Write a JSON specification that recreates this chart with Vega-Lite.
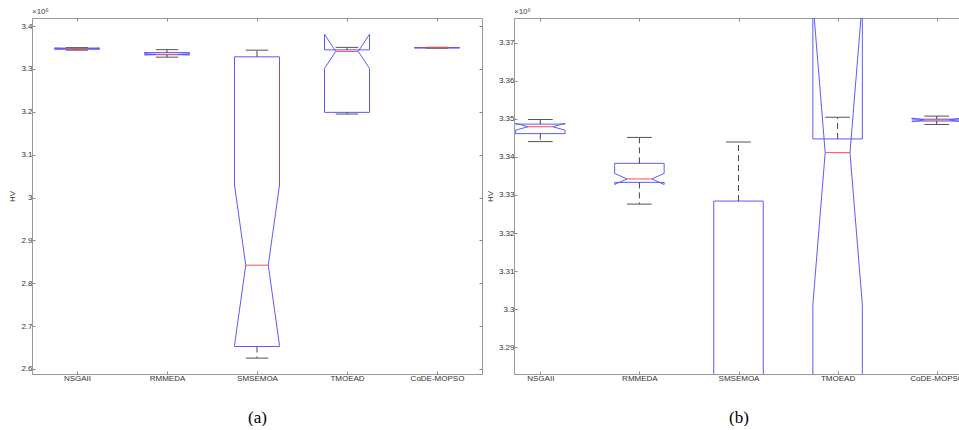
{
  "$schema": "https://vega.github.io/schema/vega-lite/v6.json",
  "background": "white",
  "padding": {"left": 8, "top": 7, "right": 0, "bottom": 0},
  "spacing": 2,
  "data": {"values": [
    {"algo": "NSGAII", "whisker_lo": 3344000, "q1": 3346100, "notch_lo": 3347000, "median": 3347900, "notch_hi": 3348800, "q3": 3348600, "whisker_hi": 3349800},
    {"algo": "RMMEDA", "whisker_lo": 3327600, "q1": 3333300, "notch_lo": 3332750, "median": 3334200, "notch_hi": 3335650, "q3": 3338300, "whisker_hi": 3345100},
    {"algo": "SMSEMOA", "whisker_lo": 2625400, "q1": 2652500, "notch_lo": 2655000, "median": 2842200, "notch_hi": 3029400, "q3": 3328400, "whisker_hi": 3343900},
    {"algo": "TMOEAD", "whisker_lo": 3194900, "q1": 3198800, "notch_lo": 3301200, "median": 3341100, "notch_hi": 3381000, "q3": 3344700, "whisker_hi": 3350400},
    {"algo": "CoDE-MOPSO", "whisker_lo": 3348500, "q1": 3349400, "notch_lo": 3349200, "median": 3349700, "notch_hi": 3350200, "q3": 3349900, "whisker_hi": 3350700}
  ]},
  "hconcat": [
    {
      "width": 450, "height": 356,
      "title": {"text": "×10⁶", "anchor": "start", "frame": "group", "fontSize": 8, "fontWeight": "normal", "color": "#444", "font": "Liberation Sans", "offset": 2},
      "resolve": {"axis": {"x": "independent", "y": "independent"}},
      "layer": [
        {"mark": {"type": "rule", "color": "#5a5aff", "xOffset": -22.5, "x2Offset": 22.5, "clip": true},
         "encoding": {
           "x": {"field": "algo", "type": "nominal", "scale": {"type": "point", "domain": ["NSGAII", "RMMEDA", "SMSEMOA", "TMOEAD", "CoDE-MOPSO"], "padding": 0.5},
                 "axis": {"orient": "bottom", "title": "(a)", "titleFont": "Liberation Serif", "titleFontSize": 17, "titleFontWeight": "normal", "titleColor": "#000", "titlePadding": 27, "labelAngle": 0, "labelFontSize": 8, "labelColor": "#333", "tickSize": -3, "tickColor": "#888", "domainColor": "#999", "labelPadding": 3}},
           "x2": {"field": "algo"},
           "y": {"field": "q1", "type": "quantitative", "scale": {"domain": [2588300, 3419000], "nice": false, "zero": false},
                 "axis": {"orient": "left", "title": "HV", "values": [2600000, 2700000, 2800000, 2900000, 3000000, 3100000, 3200000, 3300000, 3400000], "labelExpr": "format(datum.value/1000000, '~g')", "labelFontSize": 8, "labelColor": "#333", "tickSize": -3, "tickColor": "#888", "domainColor": "#999", "labelPadding": 3, "titlePadding": 4, "titleFontSize": 8, "titleFontWeight": "normal", "titleColor": "#333"}}
         }},
        {"mark": {"type": "rule", "color": "#5a5aff", "xOffset": -22.5, "x2Offset": 22.5, "clip": true},
         "encoding": {
           "x": {"field": "algo", "type": "nominal", "axis": {"orient": "top", "labels": false, "title": null, "tickSize": -3, "tickColor": "#888", "domain": false}},
           "x2": {"field": "algo"},
           "y": {"field": "q3", "type": "quantitative", "axis": {"orient": "right", "labels": false, "title": null, "tickSize": -3, "tickColor": "#888", "domain": false, "values": [2600000, 2700000, 2800000, 2900000, 3000000, 3100000, 3200000, 3300000, 3400000]}}
         }},
        {"mark": {"type": "rule", "color": "#5a5aff", "xOffset": -22.5, "clip": true},
         "encoding": {"x": {"field": "algo", "type": "nominal", "axis": null}, "y": {"field": "q1", "type": "quantitative", "axis": null}, "y2": {"field": "notch_lo"}}},
        {"mark": {"type": "rule", "color": "#5a5aff", "xOffset": 22.5, "clip": true},
         "encoding": {"x": {"field": "algo", "type": "nominal", "axis": null}, "y": {"field": "q1", "type": "quantitative", "axis": null}, "y2": {"field": "notch_lo"}}},
        {"mark": {"type": "rule", "color": "#5a5aff", "xOffset": -22.5, "clip": true},
         "encoding": {"x": {"field": "algo", "type": "nominal", "axis": null}, "y": {"field": "notch_hi", "type": "quantitative", "axis": null}, "y2": {"field": "q3"}}},
        {"mark": {"type": "rule", "color": "#5a5aff", "xOffset": 22.5, "clip": true},
         "encoding": {"x": {"field": "algo", "type": "nominal", "axis": null}, "y": {"field": "notch_hi", "type": "quantitative", "axis": null}, "y2": {"field": "q3"}}},
        {"mark": {"type": "rule", "color": "#5a5aff", "xOffset": -22.5, "x2Offset": -11.25, "clip": true},
         "encoding": {"x": {"field": "algo", "type": "nominal", "axis": null}, "x2": {"field": "algo"}, "y": {"field": "notch_lo", "type": "quantitative", "axis": null}, "y2": {"field": "median"}}},
        {"mark": {"type": "rule", "color": "#5a5aff", "xOffset": 22.5, "x2Offset": 11.25, "clip": true},
         "encoding": {"x": {"field": "algo", "type": "nominal", "axis": null}, "x2": {"field": "algo"}, "y": {"field": "notch_lo", "type": "quantitative", "axis": null}, "y2": {"field": "median"}}},
        {"mark": {"type": "rule", "color": "#5a5aff", "xOffset": -22.5, "x2Offset": -11.25, "clip": true},
         "encoding": {"x": {"field": "algo", "type": "nominal", "axis": null}, "x2": {"field": "algo"}, "y": {"field": "notch_hi", "type": "quantitative", "axis": null}, "y2": {"field": "median"}}},
        {"mark": {"type": "rule", "color": "#5a5aff", "xOffset": 22.5, "x2Offset": 11.25, "clip": true},
         "encoding": {"x": {"field": "algo", "type": "nominal", "axis": null}, "x2": {"field": "algo"}, "y": {"field": "notch_hi", "type": "quantitative", "axis": null}, "y2": {"field": "median"}}},
        {"mark": {"type": "rule", "color": "#444", "strokeDash": [6, 4], "clip": true},
         "encoding": {"x": {"field": "algo", "type": "nominal", "axis": null}, "y": {"field": "q3", "type": "quantitative", "axis": null}, "y2": {"field": "whisker_hi"}}},
        {"mark": {"type": "rule", "color": "#444", "strokeDash": [6, 4], "clip": true},
         "encoding": {"x": {"field": "algo", "type": "nominal", "axis": null}, "y": {"field": "q1", "type": "quantitative", "axis": null}, "y2": {"field": "whisker_lo"}}},
        {"mark": {"type": "rule", "color": "#555", "xOffset": -11.25, "x2Offset": 11.25, "clip": true},
         "encoding": {"x": {"field": "algo", "type": "nominal", "axis": null}, "x2": {"field": "algo"}, "y": {"field": "whisker_hi", "type": "quantitative", "axis": null}}},
        {"mark": {"type": "rule", "color": "#555", "xOffset": -11.25, "x2Offset": 11.25, "clip": true},
         "encoding": {"x": {"field": "algo", "type": "nominal", "axis": null}, "x2": {"field": "algo"}, "y": {"field": "whisker_lo", "type": "quantitative", "axis": null}}},
        {"mark": {"type": "rule", "color": "#ff4a4a", "xOffset": -11.25, "x2Offset": 11.25, "clip": true},
         "encoding": {"x": {"field": "algo", "type": "nominal", "axis": null}, "x2": {"field": "algo"}, "y": {"field": "median", "type": "quantitative", "axis": null}}}
      ]
    },
    {
      "width": 449, "height": 356,
      "title": {"text": "×10⁶", "anchor": "start", "frame": "group", "fontSize": 8, "fontWeight": "normal", "color": "#444", "font": "Liberation Sans", "offset": 2},
      "resolve": {"axis": {"x": "independent", "y": "independent"}},
      "layer": [
        {"mark": {"type": "rule", "color": "#5a5aff", "xOffset": -24.75, "x2Offset": 24.75, "clip": true},
         "encoding": {
           "x": {"field": "algo", "type": "nominal", "scale": {"type": "point", "domain": ["NSGAII", "RMMEDA", "SMSEMOA", "TMOEAD", "CoDE-MOPSO"], "padding": 0.2655},
                 "axis": {"orient": "bottom", "title": "(b)", "titleFont": "Liberation Serif", "titleFontSize": 17, "titleFontWeight": "normal", "titleColor": "#000", "titlePadding": 27, "labelAngle": 0, "labelFontSize": 8, "labelColor": "#333", "tickSize": -3, "tickColor": "#888", "domainColor": "#999", "labelPadding": 3}},
           "x2": {"field": "algo"},
           "y": {"field": "q1", "type": "quantitative", "scale": {"domain": [3283000, 3376450], "nice": false, "zero": false},
                 "axis": {"orient": "left", "title": "HV", "values": [3290000, 3300000, 3310000, 3320000, 3330000, 3340000, 3350000, 3360000, 3370000], "labelExpr": "format(datum.value/1000000, '~g')", "labelFontSize": 8, "labelColor": "#333", "tickSize": -3, "tickColor": "#888", "domainColor": "#999", "labelPadding": 3, "titlePadding": 4, "titleFontSize": 8, "titleFontWeight": "normal", "titleColor": "#333"}}
         }},
        {"mark": {"type": "rule", "color": "#5a5aff", "xOffset": -24.75, "x2Offset": 24.75, "clip": true},
         "encoding": {
           "x": {"field": "algo", "type": "nominal", "axis": {"orient": "top", "labels": false, "title": null, "tickSize": -3, "tickColor": "#888", "domain": false}},
           "x2": {"field": "algo"},
           "y": {"field": "q3", "type": "quantitative", "axis": null}
         }},
        {"mark": {"type": "rule", "color": "#5a5aff", "xOffset": -24.75, "clip": true},
         "encoding": {"x": {"field": "algo", "type": "nominal", "axis": null}, "y": {"field": "q1", "type": "quantitative", "axis": null}, "y2": {"field": "notch_lo"}}},
        {"mark": {"type": "rule", "color": "#5a5aff", "xOffset": 24.75, "clip": true},
         "encoding": {"x": {"field": "algo", "type": "nominal", "axis": null}, "y": {"field": "q1", "type": "quantitative", "axis": null}, "y2": {"field": "notch_lo"}}},
        {"mark": {"type": "rule", "color": "#5a5aff", "xOffset": -24.75, "clip": true},
         "encoding": {"x": {"field": "algo", "type": "nominal", "axis": null}, "y": {"field": "notch_hi", "type": "quantitative", "axis": null}, "y2": {"field": "q3"}}},
        {"mark": {"type": "rule", "color": "#5a5aff", "xOffset": 24.75, "clip": true},
         "encoding": {"x": {"field": "algo", "type": "nominal", "axis": null}, "y": {"field": "notch_hi", "type": "quantitative", "axis": null}, "y2": {"field": "q3"}}},
        {"mark": {"type": "rule", "color": "#5a5aff", "xOffset": -24.75, "x2Offset": -12.4, "clip": true},
         "encoding": {"x": {"field": "algo", "type": "nominal", "axis": null}, "x2": {"field": "algo"}, "y": {"field": "notch_lo", "type": "quantitative", "axis": null}, "y2": {"field": "median"}}},
        {"mark": {"type": "rule", "color": "#5a5aff", "xOffset": 24.75, "x2Offset": 12.4, "clip": true},
         "encoding": {"x": {"field": "algo", "type": "nominal", "axis": null}, "x2": {"field": "algo"}, "y": {"field": "notch_lo", "type": "quantitative", "axis": null}, "y2": {"field": "median"}}},
        {"mark": {"type": "rule", "color": "#5a5aff", "xOffset": -24.75, "x2Offset": -12.4, "clip": true},
         "encoding": {"x": {"field": "algo", "type": "nominal", "axis": null}, "x2": {"field": "algo"}, "y": {"field": "notch_hi", "type": "quantitative", "axis": null}, "y2": {"field": "median"}}},
        {"mark": {"type": "rule", "color": "#5a5aff", "xOffset": 24.75, "x2Offset": 12.4, "clip": true},
         "encoding": {"x": {"field": "algo", "type": "nominal", "axis": null}, "x2": {"field": "algo"}, "y": {"field": "notch_hi", "type": "quantitative", "axis": null}, "y2": {"field": "median"}}},
        {"mark": {"type": "rule", "color": "#444", "strokeDash": [6, 4], "clip": true},
         "encoding": {"x": {"field": "algo", "type": "nominal", "axis": null}, "y": {"field": "q3", "type": "quantitative", "axis": null}, "y2": {"field": "whisker_hi"}}},
        {"mark": {"type": "rule", "color": "#444", "strokeDash": [6, 4], "clip": true},
         "encoding": {"x": {"field": "algo", "type": "nominal", "axis": null}, "y": {"field": "q1", "type": "quantitative", "axis": null}, "y2": {"field": "whisker_lo"}}},
        {"mark": {"type": "rule", "color": "#555", "xOffset": -12.4, "x2Offset": 12.4, "clip": true},
         "encoding": {"x": {"field": "algo", "type": "nominal", "axis": null}, "x2": {"field": "algo"}, "y": {"field": "whisker_hi", "type": "quantitative", "axis": null}}},
        {"mark": {"type": "rule", "color": "#555", "xOffset": -12.4, "x2Offset": 12.4, "clip": true},
         "encoding": {"x": {"field": "algo", "type": "nominal", "axis": null}, "x2": {"field": "algo"}, "y": {"field": "whisker_lo", "type": "quantitative", "axis": null}}},
        {"mark": {"type": "rule", "color": "#ff4a4a", "xOffset": -12.4, "x2Offset": 12.4, "clip": true},
         "encoding": {"x": {"field": "algo", "type": "nominal", "axis": null}, "x2": {"field": "algo"}, "y": {"field": "median", "type": "quantitative", "axis": null}}}
      ]
    }
  ],
  "config": {
    "view": {"stroke": "#999"},
    "axis": {"labelFont": "Liberation Sans", "titleFont": "Liberation Sans", "grid": false}
  }
}
